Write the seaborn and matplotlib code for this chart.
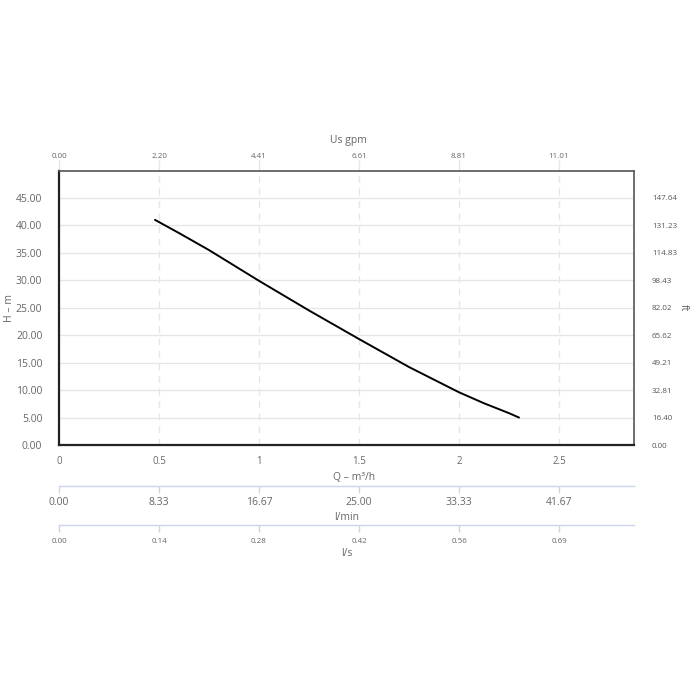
import matplotlib
matplotlib.use("Agg")
import matplotlib.pyplot as plt
import seaborn as sns
import pandas as pd

# pump curve, flow in m3/h vs head in m
flow = [0.48, 0.6, 0.75, 1.0, 1.25, 1.5, 1.75, 2.0, 2.125, 2.25, 2.3]
head = [41.0, 38.6, 35.5, 29.9, 24.5, 19.3, 14.2, 9.6, 7.6, 5.8, 5.0]

q_ticks = [0, 0.5, 1, 1.5, 2, 2.5]
q_labels = ["0", "0.5", "1", "1.5", "2", "2.5"]
gpm_labels = ["0.00", "2.20", "4.41", "6.61", "8.81", "11.01"]
lmin_labels = ["0.00", "8.33", "16.67", "25.00", "33.33", "41.67"]
ls_labels = ["0.00", "0.14", "0.28", "0.42", "0.56", "0.69"]

h_ticks = [0, 5, 10, 15, 20, 25, 30, 35, 40, 45]
h_labels = ["0.00", "5.00", "10.00", "15.00", "20.00", "25.00", "30.00", "35.00", "40.00", "45.00"]
ft_labels = ["0.00", "16.40", "32.81", "49.21", "65.62", "82.02", "98.43", "114.83", "131.23", "147.64"]

sns.set_style("white")
plt.rcParams['font.family'] = ['Open Sans', 'DejaVu Sans']

df = pd.DataFrame({'Q': flow, 'H': head})

fig = plt.figure(figsize=(7, 7), dpi=100)
ax = fig.add_axes([59/700, 1 - 445/700, 575/700, 274/700])

sns.lineplot(data=df, x='Q', y='H', ax=ax, color='black', linewidth=1.4)

ax.set_xlim(0, 2.875)
ax.set_ylim(0, 49.9)
ax.set_xticks(q_ticks, labels=q_labels)
ax.set_yticks(h_ticks, labels=h_labels)
ax.set_xlabel('')
ax.set_ylabel('')
ax.grid(axis='y', color='#e6e6e6', linewidth=1, linestyle='-')
ax.grid(axis='x', color='#e6e6e6', linewidth=1, linestyle=(0, (5, 4)))
ax.tick_params(axis='x', length=0, pad=8, labelsize=7, labelcolor='#666666')
ax.tick_params(axis='y', length=0, pad=12, labelsize=7.5, labelcolor='#666666')

for side in ['left', 'bottom']:
    ax.spines[side].set_color('#222222')
    ax.spines[side].set_linewidth(1.6)
for side in ['top', 'right']:
    ax.spines[side].set_color('#555555')
    ax.spines[side].set_linewidth(1.2)

# top axis, US gpm
top = ax.secondary_xaxis('top')
top.set_xticks(q_ticks, labels=gpm_labels)
top.tick_params(length=8, color='#e6e6e6', width=1, pad=0, labelsize=5.8, labelcolor='#666666')
top.spines['top'].set_visible(False)

# right axis, ft
right = ax.secondary_yaxis('right')
right.set_yticks(h_ticks, labels=ft_labels)
right.tick_params(length=0, pad=13, labelsize=5.8, labelcolor='#555555')
right.spines['right'].set_visible(False)

# extra flow axes below
lmin = ax.secondary_xaxis(-0.150)
lmin.set_xticks(q_ticks, labels=lmin_labels)
lmin.tick_params(length=5, color='#ccd6eb', width=1, pad=3, labelsize=7.5, labelcolor='#666666')
lmin.spines['bottom'].set_color('#ccd6eb')
lmin.spines['bottom'].set_linewidth(1)

ls = ax.secondary_xaxis(-0.292)
ls.set_xticks(q_ticks, labels=ls_labels)
ls.tick_params(length=5, color='#ccd6eb', width=1, pad=4, labelsize=5.8, labelcolor='#666666')
ls.spines['bottom'].set_color('#ccd6eb')
ls.spines['bottom'].set_linewidth(1)

# axis titles
fig.text(348/700, 1 - 140/700, 'Us gpm', ha='center', va='center', fontsize=7.5, color='#666666')
fig.text(354/700, 1 - 477/700, 'Q – m³/h', ha='center', va='center', fontsize=7.5, color='#666666')
fig.text(347/700, 1 - 517/700, 'l/min', ha='center', va='center', fontsize=7.5, color='#666666')
fig.text(347/700, 1 - 553/700, 'l/s', ha='center', va='center', fontsize=7.5, color='#666666')
fig.text(10/700, 1 - 308/700, 'H – m', ha='center', va='center', rotation=90, fontsize=7.5, color='#666666')
fig.text(683/700, 1 - 308/700, 'ft', ha='center', va='center', rotation=-90, fontsize=7.5, color='#666666')

plt.savefig('out.png', dpi=100)
plt.close()
